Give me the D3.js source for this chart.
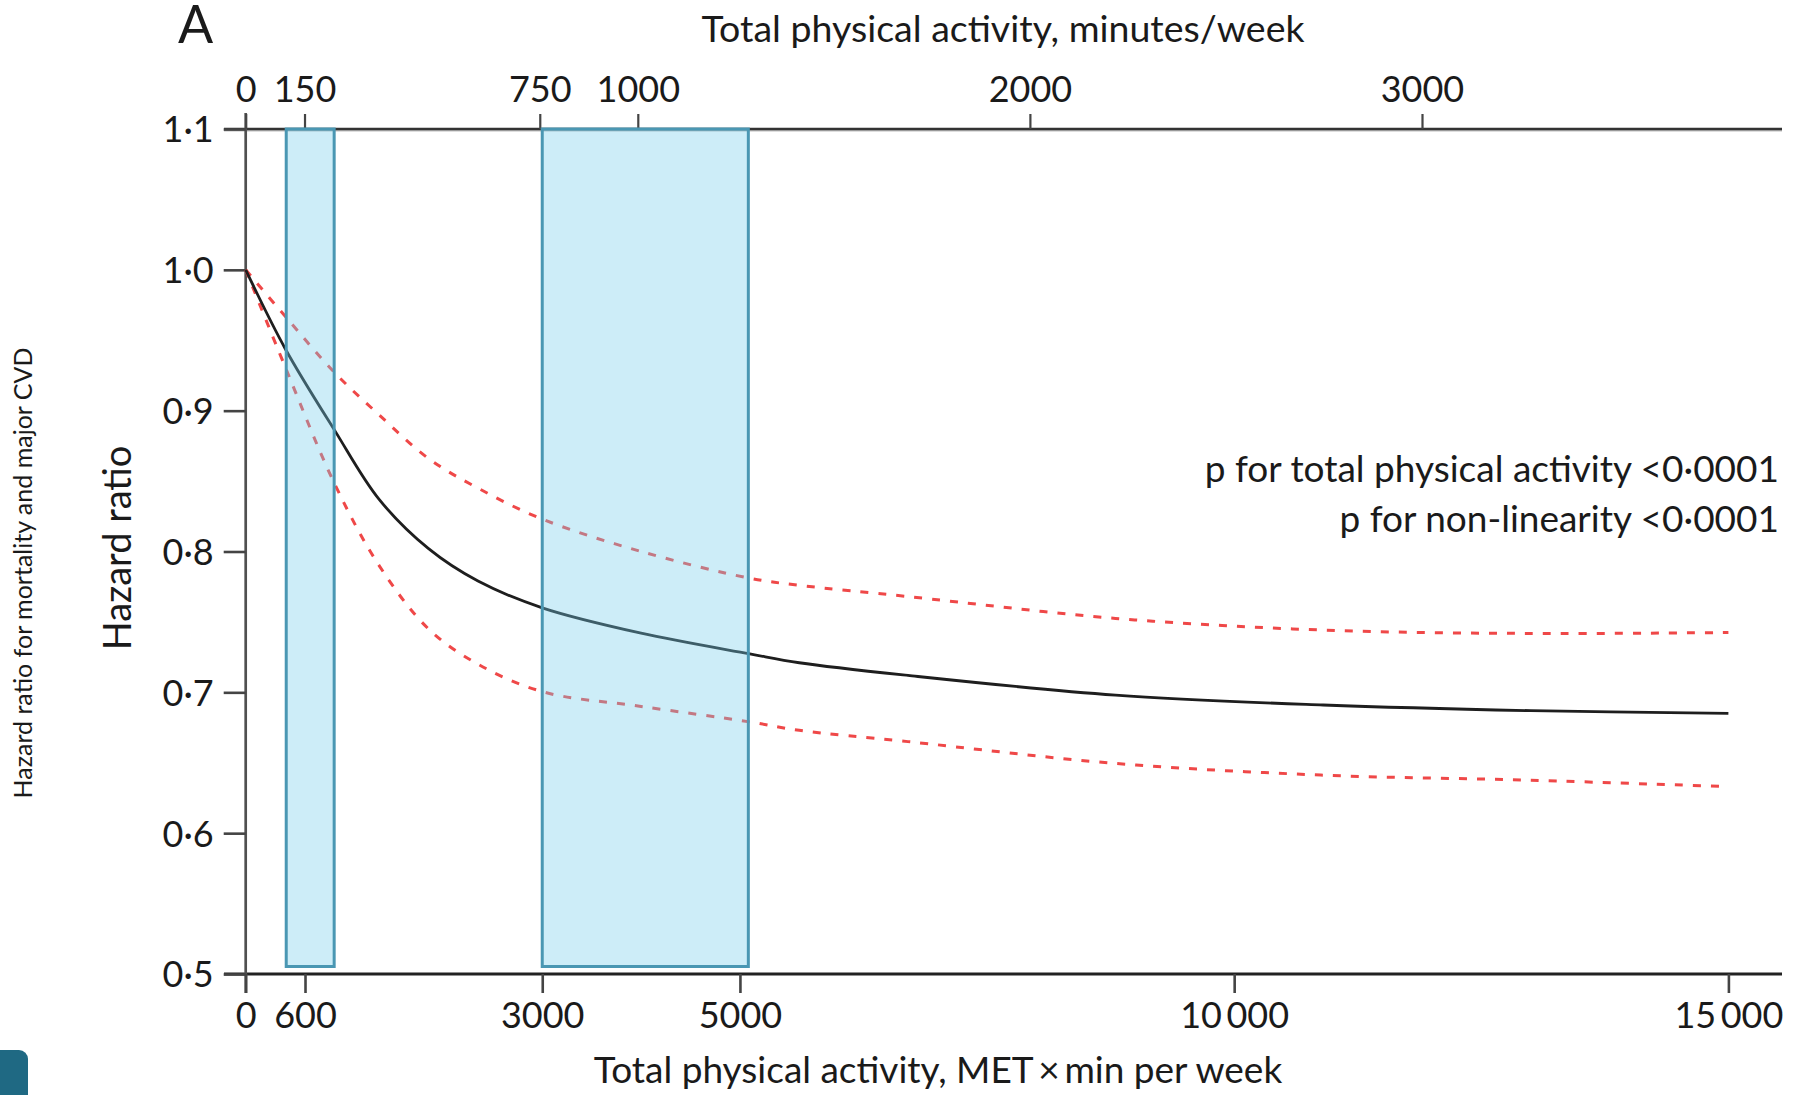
<!DOCTYPE html>
<html>
<head>
<meta charset="utf-8">
<script src="https://cdn.jsdelivr.net/npm/d3@7"></script>
<style>
  html, body { margin: 0; padding: 0; background: #ffffff; }
  svg { display: block; }
  text { font-family: Lato, "Liberation Sans", sans-serif; fill: #1a1a1a; }
</style>
</head>
<body>
<svg id="chart" width="1793" height="1095"></svg>
<script>
// ---- data ----
const met        = [0, 400, 900, 1350, 1850, 2350, 3000, 4000, 5100, 5600, 6700, 8800, 10900, 13000, 15000];
const hrCentral  = [1.000, 0.944, 0.886, 0.837, 0.802, 0.779, 0.760, 0.742, 0.7273, 0.721, 0.712, 0.698, 0.691, 0.687, 0.685];
const hrUpper    = [1.000, 0.967, 0.927, 0.897, 0.866, 0.845, 0.823, 0.800, 0.781, 0.776, 0.768, 0.7525, 0.7442, 0.7418, 0.7425];
const hrLower    = [1.000, 0.931, 0.848, 0.790, 0.745, 0.720, 0.7005, 0.690, 0.679, 0.673, 0.665, 0.6495, 0.6412, 0.6376, 0.633];

const bands = [[410, 895], [3000, 5085]];   // shaded MET ranges

const bottomTicks      = [0, 600, 3000, 5000, 10000, 15000];
const bottomTickLabels = ["0", "600", "3000", "5000", "10\u2009000", "15\u2009000"];
const topTicks         = [0, 150, 750, 1000, 2000, 3000];
const topTickLabels    = ["0", "150", "750", "1000", "2000", "3000"];
const yTicks           = [0.5, 0.6, 0.7, 0.8, 0.9, 1.0, 1.1];
const yTickLabels      = ["0·5", "0·6", "0·7", "0·8", "0·9", "1·0", "1·1"];

const panelLabel  = "A";
const topTitle    = "Total physical activity, minutes/week";
const bottomTitle = "Total physical activity, MET\u2009×\u2009min per week";
const yTitle      = "Hazard ratio";
const outerTitle  = "Hazard ratio for mortality and major CVD";
const pTexts      = ["p for total physical activity <0·0001", "p for non-linearity <0·0001"];

// ---- layout ----
const svg = d3.select("#chart");
const x    = d3.scaleLinear().domain([0, 15000]).range([245.7, 1728.4]);
const xTop = d3.scaleLinear().domain([0, 3000]).range([245.7, 1422]);
const y    = d3.scaleLinear().domain([0.5, 1.1]).range([974, 129]);
const lineRight = 1782;

// top reference line (1.1)
svg.append("line")
  .attr("x1", 224).attr("x2", lineRight)
  .attr("y1", y(1.1) + 1.2).attr("y2", y(1.1) + 1.2)
  .attr("stroke", "#bdbdbd").attr("stroke-width", 2.5);
svg.append("line")
  .attr("x1", 224).attr("x2", lineRight)
  .attr("y1", y(1.1)).attr("y2", y(1.1))
  .attr("stroke", "#333").attr("stroke-width", 2.4);

// bottom axis line
svg.append("line")
  .attr("x1", 224).attr("x2", lineRight)
  .attr("y1", y(0.5)).attr("y2", y(0.5))
  .attr("stroke", "#222").attr("stroke-width", 3);

// y axis vertical line
svg.append("line")
  .attr("x1", x(0)).attr("x2", x(0))
  .attr("y1", 113).attr("y2", 993)
  .attr("stroke", "#505050").attr("stroke-width", 2.7);

// y axis ticks
const yAxis = d3.axisLeft(y).tickValues(yTicks).tickSize(22).tickPadding(10)
  .tickFormat((d, i) => yTickLabels[i]);
const gy = svg.append("g").attr("transform", `translate(${x(0)},0)`).call(yAxis);
gy.select(".domain").remove();
gy.selectAll(".tick line").attr("stroke", "#444").attr("stroke-width", 2.6);
gy.selectAll(".tick text").attr("font-size", 36).attr("font-family", "Lato").attr("fill", "#1a1a1a").attr("dy", "0.36em");

// bottom axis ticks
const xAxis = d3.axisBottom(x).tickValues(bottomTicks).tickSize(19).tickPadding(9)
  .tickFormat((d, i) => bottomTickLabels[i]);
const gx = svg.append("g").attr("transform", `translate(0,${y(0.5)})`).call(xAxis);
gx.select(".domain").remove();
gx.selectAll(".tick line").attr("stroke", "#444").attr("stroke-width", 2.6);
gx.selectAll(".tick text").attr("font-size", 36).attr("font-family", "Lato").attr("fill", "#1a1a1a");

// top axis ticks
const xtAxis = d3.axisTop(xTop).tickValues(topTicks).tickSize(15).tickPadding(12)
  .tickFormat((d, i) => topTickLabels[i]);
const gt = svg.append("g").attr("transform", `translate(0,${y(1.1)})`).call(xtAxis);
gt.select(".domain").remove();
gt.selectAll(".tick line").attr("stroke", "#444").attr("stroke-width", 2.2);
gt.selectAll(".tick text").attr("font-size", 36).attr("font-family", "Lato").attr("fill", "#1a1a1a");

// curves
const line = d3.line().curve(d3.curveCatmullRom.alpha(0.5));
function pts(vals) { return met.map((m, i) => [x(m), y(vals[i])]); }

svg.append("path").attr("d", line(pts(hrUpper)))
  .attr("fill", "none").attr("stroke", "#ef4848").attr("stroke-width", 3)
  .attr("stroke-dasharray", "8,10");
svg.append("path").attr("d", line(pts(hrLower)))
  .attr("fill", "none").attr("stroke", "#ef4848").attr("stroke-width", 3)
  .attr("stroke-dasharray", "8,10");
svg.append("path").attr("d", line(pts(hrCentral)))
  .attr("fill", "none").attr("stroke", "#1e1e1e").attr("stroke-width", 2.8);

// shaded bands (drawn over the curves, semi-transparent)
svg.selectAll("rect.band").data(bands).enter().append("rect")
  .attr("class", "band")
  .attr("x", d => x(d[0]))
  .attr("width", d => x(d[1]) - x(d[0]))
  .attr("y", y(1.1))
  .attr("height", (y(0.5) - 7.5) - y(1.1))
  .attr("fill", "rgba(116,205,236,0.36)")
  .attr("stroke", "#4a97b3").attr("stroke-width", 3);

// titles
svg.append("text").attr("x", 178).attr("y", 42.5)
  .attr("font-size", 52).attr("font-family", "Lato").text(panelLabel);

svg.append("text").attr("x", 1003).attr("y", 41.5).attr("text-anchor", "middle")
  .attr("font-size", 37.5).text(topTitle);

svg.append("text").attr("x", 938).attr("y", 1083).attr("text-anchor", "middle")
  .attr("font-size", 37).text(bottomTitle);

svg.append("text")
  .attr("transform", "translate(131,548) rotate(-90)")
  .attr("text-anchor", "middle").attr("font-size", 38).text(yTitle);

svg.append("text")
  .attr("transform", "translate(32,573) rotate(-90)")
  .attr("text-anchor", "middle")
  .attr("font-family", "'Noto Sans', 'Open Sans', sans-serif")
  .attr("font-size", 25).attr("fill", "#222").text(outerTitle);

svg.selectAll("text.ptext").data(pTexts).enter().append("text")
  .attr("class", "ptext")
  .attr("x", 1779).attr("y", (d, i) => 482 + i * 50)
  .attr("text-anchor", "end").attr("font-size", 37).text(d => d);

// partial dark tab at bottom-left corner
svg.append("rect").attr("x", -12).attr("y", 1050).attr("width", 40).attr("height", 70)
  .attr("rx", 9).attr("fill", "#1f6983");
</script>
</body>
</html>
